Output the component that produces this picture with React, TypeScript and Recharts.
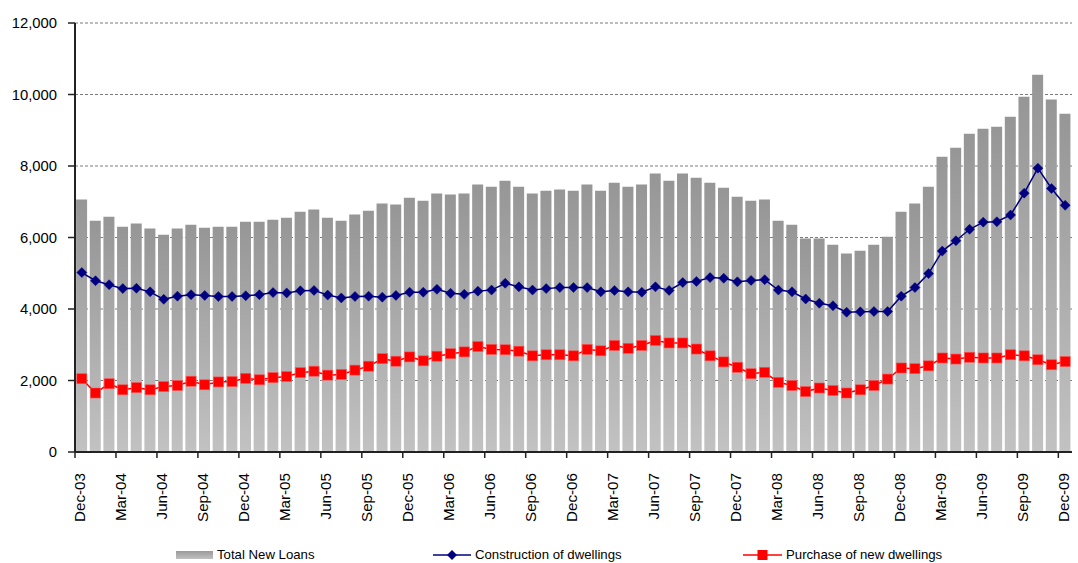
import React from 'react';
import { ComposedChart, Bar, Line, XAxis, YAxis, CartesianGrid, Legend } from 'recharts';

const months: string[] = [
  'Dec-03','Jan-04','Feb-04','Mar-04','Apr-04','May-04','Jun-04','Jul-04','Aug-04','Sep-04','Oct-04','Nov-04',
  'Dec-04','Jan-05','Feb-05','Mar-05','Apr-05','May-05','Jun-05','Jul-05','Aug-05','Sep-05','Oct-05','Nov-05',
  'Dec-05','Jan-06','Feb-06','Mar-06','Apr-06','May-06','Jun-06','Jul-06','Aug-06','Sep-06','Oct-06','Nov-06',
  'Dec-06','Jan-07','Feb-07','Mar-07','Apr-07','May-07','Jun-07','Jul-07','Aug-07','Sep-07','Oct-07','Nov-07',
  'Dec-07','Jan-08','Feb-08','Mar-08','Apr-08','May-08','Jun-08','Jul-08','Aug-08','Sep-08','Oct-08','Nov-08',
  'Dec-08','Jan-09','Feb-09','Mar-09','Apr-09','May-09','Jun-09','Jul-09','Aug-09','Sep-09','Oct-09','Nov-09',
  'Dec-09',
];

const totalNewLoans: number[] = [
  7060,6470,6580,6300,6390,6250,6080,6250,6360,6270,6300,6300,
  6440,6440,6500,6550,6720,6780,6550,6470,6640,6750,6950,6920,
  7110,7030,7230,7200,7230,7480,7420,7590,7420,7230,7310,7340,
  7310,7480,7310,7530,7420,7480,7790,7590,7790,7670,7530,7390,
  7140,7030,7060,6470,6360,5970,5970,5800,5550,5630,5800,6020,
  6720,6950,7420,8260,8510,8900,9040,9100,9380,9940,10550,9860,
  9460,
];

const construction: number[] = [
  5020,4790,4680,4570,4580,4480,4270,4360,4400,4380,4350,4350,
  4370,4400,4460,4450,4510,4520,4390,4310,4350,4360,4330,4380,
  4470,4470,4550,4440,4410,4500,4530,4720,4620,4530,4570,4600,
  4600,4600,4480,4520,4480,4470,4620,4520,4740,4770,4880,4860,
  4760,4800,4820,4530,4480,4280,4160,4090,3910,3920,3930,3930,
  4360,4600,4990,5620,5910,6230,6430,6440,6630,7240,7940,7370,
  6900,
];

const purchase: number[] = [
  2050,1650,1910,1740,1800,1740,1830,1860,1980,1880,1960,1970,
  2060,2020,2080,2110,2220,2260,2150,2170,2290,2400,2610,2540,
  2660,2550,2680,2750,2800,2950,2870,2860,2820,2690,2720,2720,
  2690,2870,2830,2980,2900,2980,3120,3050,3050,2880,2690,2520,
  2370,2190,2230,1950,1860,1690,1790,1720,1650,1740,1860,2040,
  2350,2330,2410,2630,2600,2650,2630,2630,2720,2690,2580,2440,
  2530,
];

const yTicks: number[] = [0, 2000, 4000, 6000, 8000, 10000, 12000];

const data = months.map((m, i) => ({
  month: m,
  total: totalNewLoans[i],
  construction: construction[i],
  purchase: purchase[i],
}));

const FONT = '"Liberation Sans", Arial, sans-serif';
const W = 1078;
const H = 563;
const LEFT = 75;
const RIGHT = 6;
const BAND = (W - LEFT - RIGHT) / months.length;

const XTick = (props: any) => {
  const { x, y, payload } = props;
  const tx = x - BAND / 2;
  return (
    <g>
      <line x1={tx} x2={tx} y1={y} y2={y + 6} stroke="#222" strokeWidth={1.5} />
      <text
        transform={`translate(${x + 3.5},${y + 21}) rotate(-90)`}
        textAnchor="end"
        fontSize={15.2}
        fontFamily={FONT}
        fill="#000"
      >
        {payload.value}
      </text>
    </g>
  );
};

const Diamond = (props: any) => {
  const { cx, cy } = props;
  if (cx == null || cy == null) return null;
  const r = 5;
  return (
    <polygon
      points={`${cx},${cy - r} ${cx + r},${cy} ${cx},${cy + r} ${cx - r},${cy}`}
      fill="#000080"
      stroke="#000080"
      strokeWidth={0.5}
    />
  );
};

const Square = (props: any) => {
  const { cx, cy } = props;
  if (cx == null || cy == null) return null;
  const s = 10;
  return <rect x={cx - s / 2} y={cy - s / 2} width={s} height={s} fill="#ff0000" stroke="#ff5050" strokeWidth={0.6} />;
};

const LegendContent = () => (
  <div style={{ position: 'relative', width: W, height: 24, fontFamily: FONT, fontSize: 13.2, color: '#000' }}>
    <div
      style={{
        position: 'absolute', left: 176, top: 8, width: 37, height: 8,
        background: 'linear-gradient(#9a9a9a, #c0c0c0)',
      }}
    />
    <div style={{ position: 'absolute', left: 217, top: 0, lineHeight: '24px', whiteSpace: 'nowrap' }}>Total New Loans</div>
    <svg style={{ position: 'absolute', left: 433, top: 0 }} width={38} height={24}>
      <line x1={0} x2={38} y1={12} y2={12} stroke="#000080" strokeWidth={1.5} />
      <polygon points="19,7 24,12 19,17 14,12" fill="#000080" />
    </svg>
    <div style={{ position: 'absolute', left: 475, top: 0, lineHeight: '24px', whiteSpace: 'nowrap' }}>Construction of dwellings</div>
    <svg style={{ position: 'absolute', left: 743, top: 0 }} width={39} height={24}>
      <line x1={0} x2={39} y1={12} y2={12} stroke="#ff0000" strokeWidth={1.5} />
      <rect x={14.5} y={7} width={10} height={10} fill="#ff0000" />
    </svg>
    <div style={{ position: 'absolute', left: 786, top: 0, lineHeight: '24px', whiteSpace: 'nowrap' }}>Purchase of new dwellings</div>
  </div>
);

export default function App() {
  return (
    <div style={{ position: 'absolute', left: 0, top: 0, width: W, height: H, background: '#fff' }}>
      <ComposedChart
        width={W}
        height={H}
        data={data}
        margin={{ top: 23, right: RIGHT, left: 0, bottom: 41 }}
        barCategoryGap="8%"
      >
        <defs>
          <linearGradient id="barGrad" x1="0" y1="0" x2="0" y2="1">
            <stop offset="0%" stopColor="#969696" />
            <stop offset="100%" stopColor="#c2c2c2" />
          </linearGradient>
        </defs>
        <CartesianGrid vertical={false} stroke="#7a7a7a" strokeDasharray="3 2" strokeWidth={1} />
        <XAxis
          dataKey="month"
          interval={2}
          height={70}
          tickLine={false}
          tickSize={0}
          tickMargin={0}
          tick={<XTick />}
          axisLine={{ stroke: '#222', strokeWidth: 2 }}
        />
        <YAxis
          width={LEFT}
          domain={[0, 12000]}
          ticks={yTicks}
          interval={0}
          tickSize={7}
          tickMargin={11}
          tickFormatter={(v: number) => v.toLocaleString('en-US')}
          tick={{ fontSize: 14.8, fontFamily: FONT, fill: '#000' }}
          tickLine={{ stroke: '#222', strokeWidth: 1.5 }}
          axisLine={{ stroke: '#222', strokeWidth: 2 }}
        />
        <Legend
          verticalAlign="middle"
          align="center"
          content={<LegendContent />}
          wrapperStyle={{ left: 0, top: 543, width: W, height: 24 }}
        />
        <Bar dataKey="total" name="Total New Loans" fill="url(#barGrad)" isAnimationActive={false} />
        <Line
          dataKey="construction"
          name="Construction of dwellings"
          stroke="#000080"
          strokeWidth={1.5}
          dot={<Diamond />}
          activeDot={false}
          isAnimationActive={false}
        />
        <Line
          dataKey="purchase"
          name="Purchase of new dwellings"
          stroke="#ff0000"
          strokeWidth={1.5}
          dot={<Square />}
          activeDot={false}
          isAnimationActive={false}
        />
      </ComposedChart>
    </div>
  );
}
